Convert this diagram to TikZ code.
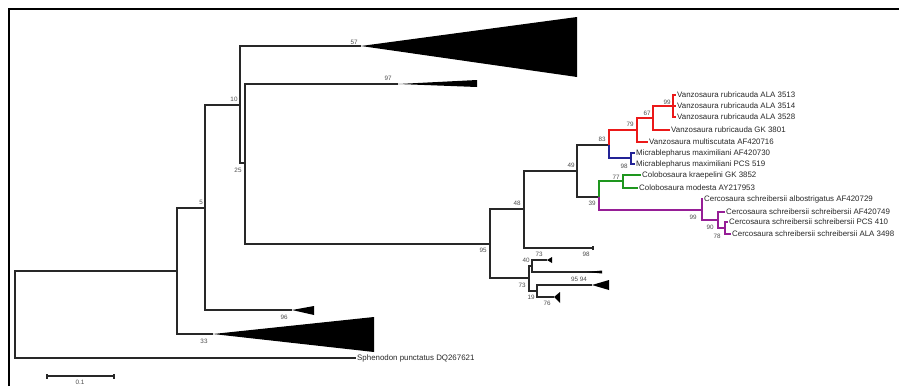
\documentclass[tikz,border=0pt]{standalone}
\usepackage{fontspec}
\setmainfont{Liberation Sans}
\definecolor{brred}{RGB}{235,25,25}
\definecolor{brblue}{RGB}{35,35,150}
\definecolor{brgreen}{RGB}{30,150,30}
\definecolor{brpurple}{RGB}{150,30,150}
\definecolor{ink}{RGB}{40,40,40}
\begin{document}
\begin{tikzpicture}[x=1pt,y=-1pt,
  br/.style={draw=ink,line width=1.05pt},
  rb/.style={draw=brred,line width=1.05pt},
  bb/.style={draw=brblue,line width=1.05pt},
  gb/.style={draw=brgreen,line width=1.05pt},
  pb/.style={draw=brpurple,line width=1.05pt},
  leaf/.style={anchor=west,inner sep=1pt,font=\fontsize{7.9}{9}\selectfont,text=ink},
  bs/.style={font=\fontsize{6.3}{7}\selectfont,text=black!70,inner sep=0pt},
  clade/.style={fill=black}]
\useasboundingbox (0,0) rectangle (899,386);
\draw[line width=2pt] (9,386) -- (9,9) -- (899,9);

% internal nodes
\coordinate (root) at (15,314);
\coordinate (nA) at (177,271);
\coordinate (n5) at (205,208);
\coordinate (c33) at (213,334);
\coordinate (n10) at (240,105);
\coordinate (c96) at (292,310);
\coordinate (c57) at (361,46);
\coordinate (n25) at (245,163);
\coordinate (c97) at (398,84);
\coordinate (n95) at (490,244);
\coordinate (n48) at (524,209);
\coordinate (n73) at (529,278);
\coordinate (n49) at (577,171);
\coordinate (t98) at (593,248);
\coordinate (n40) at (532,266);
\coordinate (n19) at (537,291);
\coordinate (c40a) at (547,260);
\coordinate (c40b) at (587,272);
\coordinate (c19a) at (592,285);
\coordinate (c19b) at (554,297);
\coordinate (n83) at (609,145);
\coordinate (n39) at (599,197);
\coordinate (n79) at (637,130);
\coordinate (nb98) at (631,158);
\coordinate (n67) at (653,118);
\coordinate (n99r) at (673,106);
\coordinate (n77) at (623,181);
\coordinate (n99p) at (702,210);
\coordinate (n90) at (718,220);
\coordinate (n78) at (725,228);

% leaves
\node[leaf] (L1) at (676,95) {Vanzosaura rubricauda ALA 3513};
\node[leaf] (L2) at (676,106) {Vanzosaura rubricauda ALA 3514};
\node[leaf] (L3) at (676,117) {Vanzosaura rubricauda ALA 3528};
\node[leaf] (L4) at (670,130) {Vanzosaura rubricauda GK 3801};
\node[leaf] (L5) at (648,142) {Vanzosaura multiscutata AF420716};
\node[leaf] (L6) at (635,153) {Micrablepharus maximiliani AF420730};
\node[leaf] (L7) at (635,164) {Micrablepharus maximiliani PCS 519};
\node[leaf] (L8) at (641,175) {Colobosaura kraepelini GK 3852};
\node[leaf] (L9) at (638,188) {Colobosaura modesta AY217953};
\node[leaf] (L10) at (703,199) {Cercosaura schreibersii albostrigatus AF420729};
\node[leaf] (L11) at (725,212) {Cercosaura schreibersii schreibersii AF420749};
\node[leaf] (L12) at (728,222) {Cercosaura schreibersii schreibersii PCS 410};
\node[leaf] (L13) at (731,234) {Cercosaura schreibersii schreibersii ALA 3498};
\node[leaf] (Sph) at (356,358) {Sphenodon punctatus DQ267621};

% black branches
\draw[br] (root) |- (nA);
\draw[br] (root) |- (Sph.west);
\draw[br] (nA) |- (n5);
\draw[br] (nA) |- (c33);
\draw[br] (n5) |- (n10);
\draw[br] (n5) |- (c96);
\draw[br] (n10) |- (c57);
\draw[br] (n10) |- (n25);
\draw[br] (n25) |- (c97);
\draw[br] (n25) |- (n95);
\draw[br] (n95) |- (n48);
\draw[br] (n95) |- (n73);
\draw[br] (n48) |- (n49);
\draw[br] (n48) |- (t98);
\draw[br] (n73) |- (n40);
\draw[br] (n73) |- (n19);
\draw[br] (n40) |- (c40a);
\draw[br] (n40) |- ([xshift=15pt]c40b);
\draw[br] (n19) |- (c19a);
\draw[br] (n19) |- (c19b);
\draw[br] (n49) |- (n83);
\draw[br] (n49) |- (n39);
\draw[br] ([yshift=-2pt]t98) -- ([yshift=2pt]t98);

% red
\draw[rb] (n83) |- (n79);
\draw[rb] (n79) |- (n67);
\draw[rb] (n79) |- (L5.west);
\draw[rb] (n67) |- (n99r);
\draw[rb] (n67) |- (L4.west);
\draw[rb] (n99r) |- (L1.west);
\draw[rb] (n99r) |- (L2.west);
\draw[rb] (n99r) |- (L3.west);
% blue
\draw[bb] (n83) |- (nb98);
\draw[bb] (nb98) |- (L6.west);
\draw[bb] (nb98) |- (L7.west);
% green
\draw[gb] (n39) |- (n77);
\draw[gb] (n77) |- (L8.west);
\draw[gb] (n77) |- (L9.west);
% purple
\draw[pb] (n39) |- (n99p);
\draw[pb] (n99p) |- (L10.west);
\draw[pb] (n99p) |- (n90);
\draw[pb] (n90) |- (L11.west);
\draw[pb] (n90) |- (n78);
\draw[pb] (n78) |- (L12.west);
\draw[pb] (n78) |- (L13.west);

% collapsed clades
\fill[clade] (c57) -- (577,17) -- (577,77) -- cycle;
\fill[clade] (c97) -- (477,80) -- (477,87) -- cycle;
\fill[clade] (c96) -- (314,306) -- (314,315) -- cycle;
\fill[clade] (c33) -- (374,317) -- (374,352) -- cycle;
\fill[clade] (c40a) -- (552,257) -- (552,263) -- cycle;
\fill[clade] (c40b) -- (602,270.5) -- (602,273.5) -- cycle;
\fill[clade] (c19a) -- (609,280) -- (609,290) -- cycle;
\fill[clade] (c19b) -- (560,292) -- (560,303) -- cycle;

% bootstrap values
\node[bs] (b57) at (354,42) {57};
\node[bs] (b97) at (388,78) {97};
\node[bs] (b10) at (234,99) {10};
\node[bs] (b25) at (238,170) {25};
\node[bs] (b5) at (201,202) {5};
\node[bs] (b96) at (284,317) {96};
\node[bs] (b33) at (204,341) {33};
\node[bs] (b95) at (483,250) {95};
\node[bs] (b48) at (517,203) {48};
\node[bs] (b49) at (571,165) {49};
\node[bs] (b83) at (602,139) {83};
\node[bs] (b79) at (630,124) {79};
\node[bs] (b67) at (647,113) {67};
\node[bs] (b99r) at (667,102) {99};
\node[bs] (b98b) at (624,166) {98};
\node[bs] (b77) at (616,177) {77};
\node[bs] (b39) at (592,203) {39};
\node[bs] (b99p) at (693,217) {99};
\node[bs] (b90) at (710,227) {90};
\node[bs] (b78) at (717,236) {78};
\node[bs] (b73a) at (539,254) {73};
\node[bs] (b98) at (586,254) {98};
\node[bs] (b40) at (526,260) {40};
\node[bs] (b9594) at (579,279) {95 94};
\node[bs] (b73b) at (522,285) {73};
\node[bs] (b19) at (531,297) {19};
\node[bs] (b76) at (547,303) {76};

% scale bar
\coordinate (sbA) at (47,376);
\coordinate (sbB) at (114,376);
\draw[br] (sbA) -- (sbB);
\draw[br] ([yshift=-2.5pt]sbA) -- ([yshift=2.5pt]sbA);
\draw[br] ([yshift=-2.5pt]sbB) -- ([yshift=2.5pt]sbB);
\node[bs] (sbl) at (80,382.5) {0.1};
\end{tikzpicture}
\end{document}
